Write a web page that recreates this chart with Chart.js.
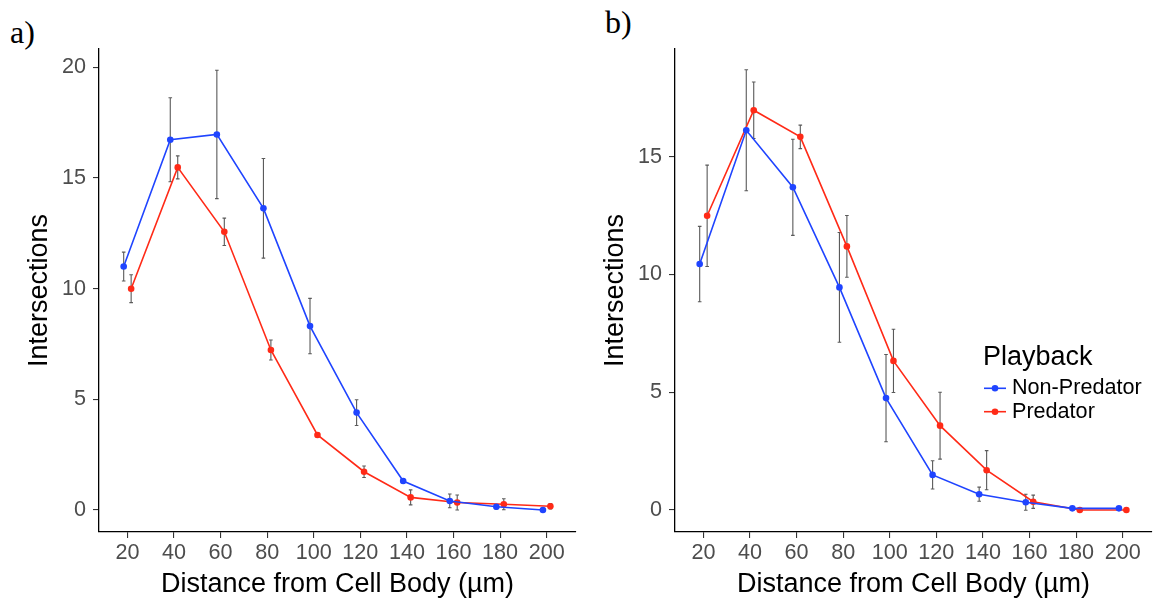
<!DOCTYPE html>
<html><head><meta charset="utf-8">
<script src="https://cdn.jsdelivr.net/npm/chart.js@4.4.1/dist/chart.umd.min.js"></script>
<style>
body{margin:0;background:#fff;width:1156px;height:603px;position:relative;overflow:hidden;font-family:"Liberation Sans",Arial,sans-serif}
canvas{position:absolute;top:0}
.lab{position:absolute;font-family:"Liberation Serif","Times New Roman",serif;font-size:32px;line-height:32px;color:#000;white-space:nowrap}
</style></head><body>
<div class="lab" style="left:10px;top:16px">a)</div>
<div class="lab" style="left:605px;top:6px">b)</div>
<canvas id="ca" width="580" height="603" style="left:0"></canvas>
<canvas id="cb" width="580" height="603" style="left:576px"></canvas>
<script>
// ---- data ----
const distances = [20, 40, 60, 80, 100, 120, 140, 160, 180, 200];
const seriesNames = ['Non-Predator', 'Predator'];
const legendTitle = 'Playback';
const xTitle = 'Distance from Cell Body (\u00b5m)';
const yTitle = 'Intersections';

// panel a
const aNonPred    = [11.0, 16.73, 16.97, 13.63, 8.31, 4.40, 1.31, 0.41, 0.15, 0.0];
const aNonPredErr = [0.65, 1.90, 2.90, 2.25, 1.25, 0.58, 0.10, 0.31, 0.10, 0.05];
const aPred       = [10.0, 15.48, 12.57, 7.23, 3.39, 1.73, 0.57, 0.34, 0.26, 0.17];
const aPredErr    = [0.63, 0.52, 0.62, 0.45, 0.10, 0.26, 0.34, 0.34, 0.25, 0.12];

// panel b
const bNonPred    = [10.44, 16.12, 13.70, 9.45, 4.75, 1.49, 0.67, 0.33, 0.07, 0.07];
const bNonPredErr = [1.60, 2.57, 2.04, 2.33, 1.85, 0.60, 0.30, 0.34, 0.04, 0.04];
const bPred       = [12.49, 16.97, 15.84, 11.19, 6.33, 3.58, 1.69, 0.35, 0.0, 0.0];
const bPredErr    = [2.15, 1.20, 0.50, 1.31, 1.34, 1.42, 0.83, 0.28, 0.02, 0.02];

// ---- style ----
const BLUE = '#1f44ff';
const RED = '#ff2a17';
const DODGE = 1.6;
const FONT = '"Liberation Sans", Arial, sans-serif';

const errorBarPlugin = {
  id: 'errorBars',
  beforeDatasetsDraw(chart) {
    const ctx = chart.ctx;
    const ys = chart.scales.y;
    ctx.save();
    ctx.strokeStyle = '#5a5a5a';
    ctx.lineWidth = 1.1;
    chart.data.datasets.forEach((ds, di) => {
      const meta = chart.getDatasetMeta(di);
      meta.data.forEach((pt, i) => {
        const v = ds.data[i].y, e = ds.errors[i];
        const y1 = ys.getPixelForValue(v - e), y2 = ys.getPixelForValue(v + e);
        ctx.beginPath();
        ctx.moveTo(pt.x, y1); ctx.lineTo(pt.x, y2);
        ctx.moveTo(pt.x - 1.8, y1); ctx.lineTo(pt.x + 1.8, y1);
        ctx.moveTo(pt.x - 1.8, y2); ctx.lineTo(pt.x + 1.8, y2);
        ctx.stroke();
      });
    });
    ctx.restore();
  }
};

const legendPlugin = {
  id: 'playbackLegend',
  afterDraw(chart, args, opts) {
    if (!opts.show) return;
    const ctx = chart.ctx;
    ctx.save();
    ctx.textBaseline = 'middle';
    ctx.textAlign = 'left';
    ctx.fillStyle = '#000';
    ctx.font = '27px ' + FONT;
    ctx.fillText(legendTitle, opts.x - 1, opts.titleY);
    ctx.font = '21.6px ' + FONT;
    chart.data.datasets.forEach((ds, i) => {
      const y = opts.firstY + i * opts.gap;
      ctx.strokeStyle = ds.borderColor;
      ctx.lineWidth = ds.borderWidth;
      ctx.beginPath(); ctx.moveTo(opts.x, y); ctx.lineTo(opts.x + 22, y); ctx.stroke();
      ctx.fillStyle = ds.pointBackgroundColor;
      ctx.beginPath(); ctx.arc(opts.x + 11, y, 3.3, 0, Math.PI * 2); ctx.fill();
      ctx.fillStyle = '#000';
      ctx.fillText(ds.label, opts.x + 28, y);
    });
    ctx.restore();
  }
};

function makeDataset(label, color, vals, errs, shift) {
  return {
    label: label,
    data: distances.map((d, i) => ({x: d + shift, y: vals[i]})),
    errors: errs,
    borderColor: color,
    backgroundColor: color,
    pointBackgroundColor: color,
    pointBorderColor: color,
    pointRadius: 3.3,
    pointBorderWidth: 0,
    borderWidth: 1.6,
    tension: 0,
    fill: false
  };
}

function makeChart(id, nonPred, nonPredErr, pred, predErr, yMin, yMax, showLegend) {
  return new Chart(document.getElementById(id), {
    type: 'line',
    data: {
      datasets: [
        makeDataset(seriesNames[0], BLUE, nonPred, nonPredErr, -DODGE),
        makeDataset(seriesNames[1], RED, pred, predErr, DODGE)
      ]
    },
    options: {
      responsive: false,
      animation: false,
      devicePixelRatio: 1,
      layout: {padding: {left: 0, top: 49, right: 3.3, bottom: 0}},
      plugins: {
        legend: {display: false},
        tooltip: {enabled: false},
        playbackLegend: {show: showLegend, x: 408, titleY: 358, firstY: 388.3, gap: 23.4}
      },
      scales: {
        x: {
          type: 'linear',
          min: 7.8, max: 212.6,
          afterFit: s => { s.height = 71; },
          ticks: {stepSize: 20, includeBounds: false, color: '#4d4d4d', padding: 2,
                  font: {family: FONT, size: 21.6, lineHeight: 1.2}, maxRotation: 0},
          grid: {display: true, drawOnChartArea: false, drawTicks: true, tickLength: 6, color: '#333', lineWidth: 1.1},
          border: {display: true, color: '#000', width: 1.3},
          title: {display: true, text: xTitle, color: '#000',
                  font: {family: FONT, size: 27, lineHeight: 1.2}, padding: {top: 0, bottom: 1.8}}
        },
        y: {
          type: 'linear',
          min: yMin, max: yMax,
          afterFit: s => { s.width = 99; },
          ticks: {stepSize: 5, includeBounds: false, color: '#4d4d4d', padding: 7,
                  font: {family: FONT, size: 21.6, lineHeight: 1.2}},
          grid: {display: true, drawOnChartArea: false, drawTicks: true, tickLength: 6, color: '#333', lineWidth: 1.1},
          border: {display: true, color: '#000', width: 1.3},
          title: {display: true, text: yTitle, color: '#000',
                  font: {family: FONT, size: 27, lineHeight: 1.2}, padding: {top: 23.8, bottom: 0}}
        }
      }
    },
    plugins: [errorBarPlugin, legendPlugin]
  });
}

makeChart('ca', aNonPred, aNonPredErr, aPred, aPredErr, -0.994, 20.83, false);
makeChart('cb', bNonPred, bNonPredErr, bPred, bPredErr, -0.934, 19.57, true);
</script>
</body></html>
